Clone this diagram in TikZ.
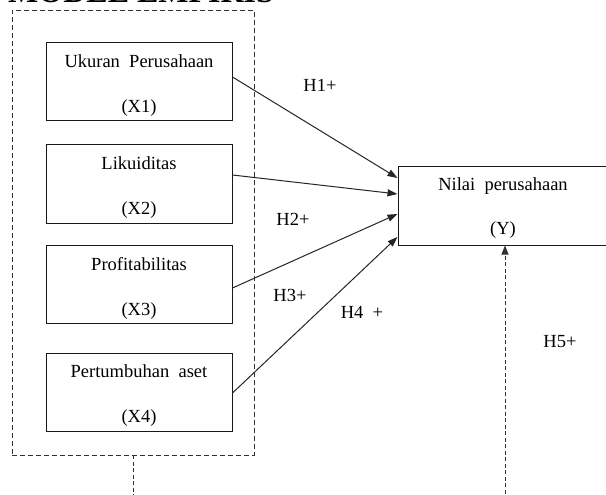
\documentclass[tikz,border=0pt]{standalone}
\usepackage{fontspec}
\setmainfont{Liberation Serif}
\usetikzlibrary{arrows.meta}
\begin{document}
\begin{tikzpicture}[x=1pt,y=-1pt,
  varbox/.style={draw=black!90, line width=1pt, minimum width=186pt, minimum height=78pt, inner sep=0pt},
  ybox/.style={draw=black!90, line width=1pt, minimum width=210pt, minimum height=79pt, inner sep=0pt},
  boxtext/.style={align=center, inner sep=0pt, font=\fontsize{18.5}{45}\selectfont},
  grpbox/.style={draw=black!80, line width=0.8pt, dash pattern=on 5pt off 3pt, minimum width=242pt, minimum height=445pt, inner sep=0pt},
  link/.style={draw=black!85, line width=1pt, -{Triangle[length=10pt,width=7pt]}},
  dlink/.style={draw=black!80, line width=0.8pt, dash pattern=on 4pt off 2.5pt},
  hlabel/.style={font=\fontsize{18.5}{20}\selectfont, inner sep=0pt},
  titlestyle/.style={font=\bfseries\fontsize{32}{32}\selectfont, inner sep=0pt, anchor=base west}
]
\clip (0,0) rectangle (606,495);
\fill[white] (0,0) rectangle (606,495);

\node[titlestyle] (title) at (8,2.5) {MODEL EMPIRIS};

\node[grpbox] (grp) at (133,232.5) {};

\node[varbox] (b1) at (139,82) {};
\node[varbox] (b2) at (139,184) {};
\node[varbox] (b3) at (139,284) {};
\node[varbox] (b4) at (139,392) {};
\node[boxtext] (t1) at ([yshift=-4pt]b1.center) {Ukuran\ \ Perusahaan\\(X1)};
\node[boxtext] (t2) at ([yshift=-4pt]b2.center) {Likuiditas\\(X2)};
\node[boxtext] (t3) at ([yshift=-4pt]b3.center) {Profitabilitas\\(X3)};
\node[boxtext] (t4) at ([yshift=-4pt]b4.center) {Pertumbuhan\ \ aset\\(X4)};

\node[ybox] (Y) at (503,205.5) {};
\node[boxtext, font=\fontsize{18.5}{44}\selectfont] (ty) at ([yshift=-3pt]Y.center) {Nilai\ \ perusahaan\\(Y)};

\draw[link] ([yshift=5pt]b1.east) -- ([yshift=27.5pt]Y.west);
\draw[link] ([yshift=9pt]b2.east) -- ([yshift=11.5pt]Y.west);
\draw[link] ([yshift=-4pt]b3.east) -- ([yshift=-8.5pt]Y.west);
\draw[link] ([yshift=-1pt]b4.east) -- ([yshift=-31.5pt]Y.west);

\node[hlabel] (h1) at (320,85) {H1+};
\node[hlabel] (h2) at (293,219) {H2+};
\node[hlabel] (h3) at (290,295) {H3+};
\node[hlabel] (h4) at (362,312) {H4\ \ +};
\node[hlabel] (h5) at (560,342) {H5+};

\coordinate (gbot) at (133,500);
\draw[dlink] (grp.south) -- (gbot);

\coordinate (ybot) at (505,500);
\draw[dlink, -{Triangle[length=9pt,width=7pt]}] (ybot) -- (Y.south -| ybot);
\end{tikzpicture}
\end{document}
